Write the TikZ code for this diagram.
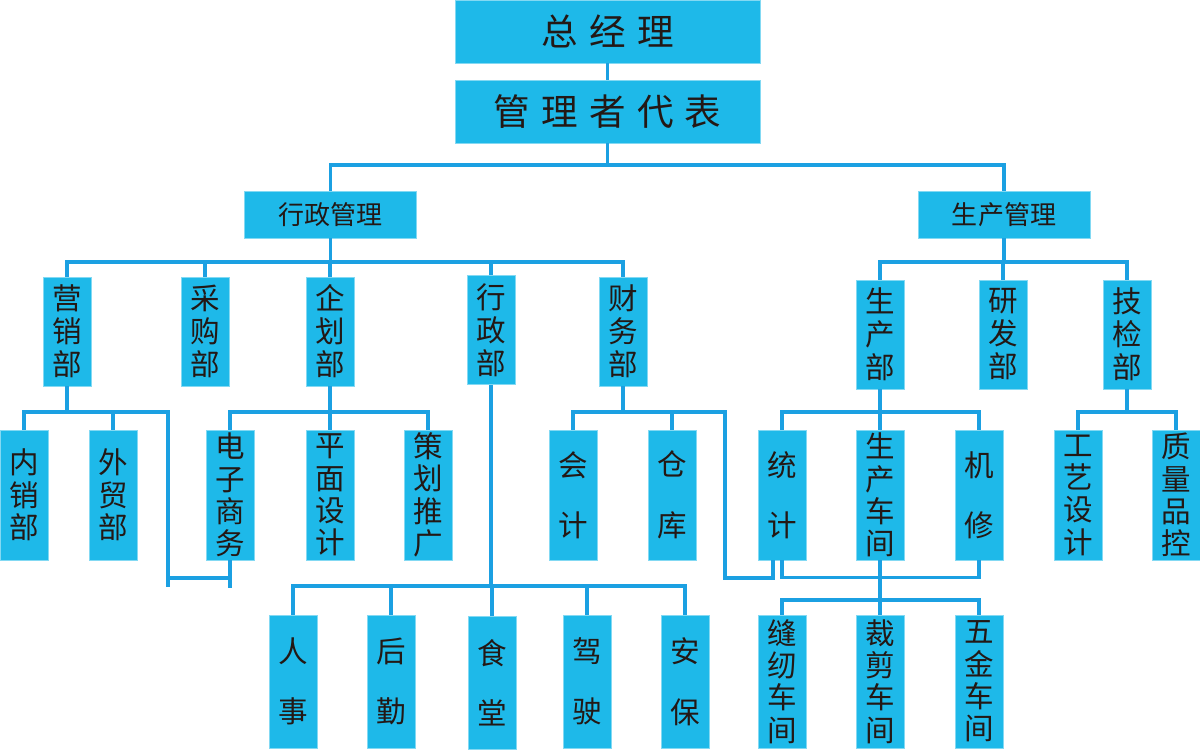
\documentclass[tikz,border=0pt]{standalone}
\usepackage{fontspec}
\newfontfamily\cjk{Noto Sans CJK SC}
\usepackage{xcolor}
\usetikzlibrary{calc}
\definecolor{boxblue}{RGB}{30,185,233}
\definecolor{linkblue}{RGB}{27,160,226}
\definecolor{textdark}{RGB}{35,24,21}
\tikzset{
  box/.style={rectangle,fill=boxblue,draw=boxblue!55!white,line width=0.5pt,inner sep=0pt,text=textdark,align=center},
  headbox/.style={box,minimum width=7.625cm,minimum height=1.575cm,font=\cjk\fontsize{26}{30}\selectfont},
  groupbox/.style={box,minimum width=4.3cm,minimum height=1.175cm,font=\cjk\fontsize{18.5}{22}\selectfont},
  deptbox/.style={box,minimum width=1.2cm,minimum height=2.725cm,font=\cjk\fontsize{21}{23.5}\selectfont},
  unitbox/.style={box,minimum width=1.2cm,minimum height=3.25cm,font=\cjk\fontsize{21}{23}\selectfont},
  shopbox/.style={unitbox,minimum height=3.325cm},
  pairtext/.style={font=\cjk\fontsize{21}{43}\selectfont},
  link/.style={linkblue,line width=2.3pt}
}

\begin{document}
\begin{tikzpicture}[x=0.025cm,y=-0.025cm]
\useasboundingbox (0,0) rectangle (1200,751);
\node[headbox] (zjl) at (607.5,31.5) {总\hspace{8pt}经\hspace{8pt}理};
\node[headbox] (gldb) at (607.5,111.5) {管\hspace{8pt}理\hspace{8pt}者\hspace{8pt}代\hspace{8pt}表};
\node[groupbox] (xzgl) at (330.5,214.5) {行政管理};
\node[groupbox] (scgl) at (1004,214.5) {生产管理};
\node[deptbox] (yxb) at (67,331.5) {营\\销\\部};
\node[deptbox] (cgb) at (205,331.5) {采\\购\\部};
\node[deptbox] (qhb) at (330,331.5) {企\\划\\部};
\node[deptbox] (xzb) at (491,330) {行\\政\\部};
\node[deptbox] (cwb) at (623,331.5) {财\\务\\部};
\node[deptbox] (scb) at (880,334.5) {生\\产\\部};
\node[deptbox] (yfb) at (1003,334.5) {研\\发\\部};
\node[deptbox] (jjb) at (1127,334.5) {技\\检\\部};
\node[unitbox] (nxb) at (24,495) {内\\销\\部};
\node[unitbox] (wmb) at (113,495) {外\\贸\\部};
\node[unitbox] (dzsw) at (230,495) {电\\子\\商\\务};
\node[unitbox] (pmsj) at (330,495) {平\\面\\设\\计};
\node[unitbox] (chtg) at (428,495) {策\\划\\推\\广};
\node[unitbox,pairtext] (kj) at (573,495) {会\\计};
\node[unitbox,pairtext] (ck) at (672,495) {仓\\库};
\node[unitbox,pairtext] (tj) at (782,495) {统\\计};
\node[unitbox] (sccj) at (880,495) {生\\产\\车\\间};
\node[unitbox,pairtext] (jx) at (979,495) {机\\修};
\node[unitbox] (gysj) at (1078,495) {工\\艺\\设\\计};
\node[unitbox] (zlpk) at (1176,495) {质\\量\\品\\控};
\node[shopbox,pairtext] (rs) at (293,681.5) {人\\事};
\node[shopbox,pairtext] (hq) at (391,681.5) {后\\勤};
\node[shopbox,pairtext] (st) at (492,683) {食\\堂};
\node[shopbox,pairtext] (js) at (587,681.5) {驾\\驶};
\node[shopbox,pairtext] (ab) at (685,681.5) {安\\保};
\node[shopbox] (fr) at (782,681.5) {缝\\纫\\车\\间};
\node[shopbox] (cj) at (880,681.5) {裁\\剪\\车\\间};
\node[shopbox] (wj) at (979,681.5) {五\\金\\车\\间};

\coordinate (topbus) at (607.5,165);
\draw[link] (zjl.south) -- (gldb.north);
\draw[link] (gldb.south) -- (topbus);
\draw[link] (xzgl.north) |- (topbus) -| (scgl.north);

\coordinate (xzglbus) at (330.5,262);
\draw[link] (xzgl.south) -- (xzglbus);
\draw[link] (yxb.north) |- (xzglbus) -| (cwb.north);
\draw[link] (cgb.north) -- (cgb.north |- xzglbus);
\draw[link] (qhb.north) -- (qhb.north |- xzglbus);
\draw[link] (xzb.north) -- (xzb.north |- xzglbus);

\coordinate (scglbus) at (1004,262);
\draw[link] (scgl.south) -- (scglbus);
\draw[link] (scb.north) |- (scglbus) -| (jjb.north);
\draw[link] (yfb.north) -- (yfb.north |- scglbus);

\coordinate (yxbus) at (67,412);
\coordinate (yxturn) at (168,578);
\draw[link] (yxb.south) -- (yxbus);
\draw[link] (nxb.north) |- (yxbus) -| (wmb.north);
\draw[link] (wmb.north |- yxbus) -| (yxturn) -- (yxturn -| dzsw.south);
\draw[link] (yxturn) -- ++(0,9);
\draw[link] (dzsw.south) -- ++(0,28);

\coordinate (qhbus) at (330,412);
\draw[link] (qhb.south) -- (qhbus);
\draw[link] (dzsw.north) |- (qhbus) -| (chtg.north);
\draw[link] (pmsj.north) -- (qhbus);

\coordinate (cwbus) at (623,412);
\coordinate (cwturn) at (725,578);
\draw[link] (cwb.south) -- (cwbus);
\draw[link] (kj.north) |- (cwbus) -| (ck.north);
\draw[link] (ck.north |- cwbus) -| (cwturn) -| ($(tj.south)+(-9,0)$);

\coordinate (scbbus) at (880,412);
\draw[link] (scb.south) -- (scbbus);
\draw[link] (tj.north) |- (scbbus) -| (jx.north);
\draw[link] (sccj.north) -- (scbbus);
\draw[link] (jx.south) -- ++(0,17) -| (tj.south);

\coordinate (cjbus) at (880,600);
\draw[link] (sccj.south) -- (cjbus);
\draw[link] (fr.north) |- (cjbus) -| (wj.north);
\draw[link] (cj.north) -- (cjbus);

\coordinate (jjbus) at (1127,412);
\draw[link] (jjb.south) -- (jjbus);
\draw[link] (gysj.north) |- (jjbus) -| (zlpk.north);

\coordinate (xzbbus) at (491,586);
\draw[link] (xzb.south) -- (xzbbus);
\draw[link] (rs.north) |- (xzbbus) -| (ab.north);
\draw[link] (hq.north) -- (hq.north |- xzbbus);
\draw[link] (st.north) -- (st.north |- xzbbus);
\draw[link] (js.north) -- (js.north |- xzbbus);
\end{tikzpicture}
\end{document}
